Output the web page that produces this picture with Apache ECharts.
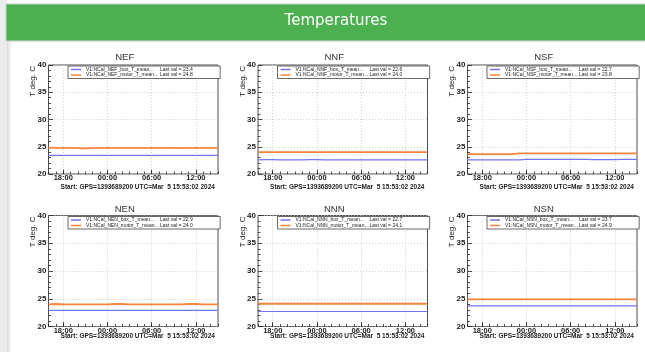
<!DOCTYPE html>
<html>
<head>
<meta charset="utf-8">
<script src="https://cdn.jsdelivr.net/npm/echarts@6/dist/echarts.min.js"></script>
<style>
html, body { margin: 0; padding: 0; background: #fff; }
#chart { width: 645px; height: 352px; }
</style>
</head>
<body>
<div id="chart"></div>
<script>
// hours since midnight of the start day (24 = 00:00 next day)
var hours = [16, 17, 18, 19, 20, 21, 22, 23, 24, 25, 26, 27, 28, 29, 30, 31, 32, 33, 34, 35, 36, 37, 38, 39];
var majorHours = [18, 24, 30, 36];

var panelNames = ['NEF', 'NNF', 'NSF', 'NEN', 'NNN', 'NSN'];

/* box / motor temperatures, deg C */
var nefBox   = [23.4, 23.4, 23.4, 23.4, 23.4, 23.4, 23.4, 23.4, 23.4, 23.4, 23.4, 23.4, 23.4, 23.4, 23.4, 23.4, 23.4, 23.4, 23.4, 23.4, 23.4, 23.4, 23.4, 23.4];
var nefMotor = [24.85, 24.8, 24.8, 24.8, 24.75, 24.7, 24.75, 24.8, 24.8, 24.8, 24.8, 24.8, 24.8, 24.8, 24.8, 24.8, 24.8, 24.8, 24.75, 24.8, 24.8, 24.8, 24.8, 24.8];
var nnfBox   = [22.6, 22.65, 22.65, 22.6, 22.6, 22.6, 22.6, 22.65, 22.65, 22.6, 22.6, 22.6, 22.6, 22.6, 22.6, 22.6, 22.6, 22.6, 22.6, 22.6, 22.6, 22.6, 22.6, 22.6];
var nnfMotor = [24.0, 24.0, 24.0, 24.0, 24.0, 24.0, 24.0, 24.0, 24.0, 24.0, 24.0, 24.0, 24.0, 24.0, 24.0, 24.0, 24.0, 24.0, 24.0, 24.0, 24.0, 24.0, 24.0, 24.0];
var nsfBox   = [22.6, 22.6, 22.6, 22.6, 22.6, 22.6, 22.6, 22.6, 22.7, 22.7, 22.7, 22.7, 22.7, 22.7, 22.7, 22.7, 22.7, 22.65, 22.65, 22.65, 22.65, 22.7, 22.7, 22.7];
var nsfMotor = [23.65, 23.65, 23.65, 23.65, 23.65, 23.65, 23.65, 23.8, 23.8, 23.8, 23.8, 23.8, 23.8, 23.8, 23.8, 23.8, 23.8, 23.8, 23.8, 23.8, 23.8, 23.8, 23.8, 23.8];
var nenBox   = [22.9, 22.9, 22.9, 22.9, 22.9, 22.9, 22.9, 22.9, 22.9, 22.9, 22.9, 22.9, 22.9, 22.9, 22.9, 22.9, 22.9, 22.9, 22.9, 22.9, 22.9, 22.9, 22.9, 22.9];
var nenMotor = [24.0, 24.05, 24.0, 24.0, 24.0, 24.0, 24.0, 24.0, 24.0, 24.05, 24.05, 24.0, 24.0, 24.0, 24.0, 24.0, 24.0, 24.0, 24.0, 24.05, 24.05, 24.0, 24.0, 24.0];
var nnnBox   = [22.7, 22.7, 22.7, 22.7, 22.7, 22.7, 22.7, 22.7, 22.7, 22.7, 22.7, 22.7, 22.7, 22.7, 22.7, 22.7, 22.7, 22.7, 22.7, 22.7, 22.7, 22.7, 22.7, 22.7];
var nnnMotor = [24.1, 24.1, 24.1, 24.1, 24.1, 24.1, 24.1, 24.1, 24.1, 24.1, 24.1, 24.1, 24.1, 24.1, 24.1, 24.1, 24.1, 24.1, 24.1, 24.1, 24.1, 24.1, 24.1, 24.1];
var nsnBox   = [23.7, 23.7, 23.7, 23.7, 23.7, 23.7, 23.7, 23.7, 23.7, 23.7, 23.7, 23.7, 23.7, 23.7, 23.7, 23.7, 23.7, 23.7, 23.7, 23.7, 23.7, 23.7, 23.7, 23.7];
var nsnMotor = [24.9, 24.9, 24.9, 24.9, 24.9, 24.9, 24.9, 24.9, 24.9, 24.9, 24.9, 24.9, 24.9, 24.9, 24.9, 24.9, 24.9, 24.9, 24.9, 24.9, 24.9, 24.9, 24.9, 24.9];

var boxData = [nefBox, nnfBox, nsfBox, nenBox, nnnBox, nsnBox];
var motorData = [nefMotor, nnfMotor, nsfMotor, nenMotor, nnnMotor, nsnMotor];
var lastBox = [23.4, 22.6, 22.7, 22.9, 22.7, 23.7];
var lastMotor = [24.8, 24.0, 23.8, 24.0, 24.1, 24.9];

var startText = 'Start: GPS=1393689200 UTC=Mar  5 15:53:02 2024';

/* layout */
var colLeft = [48.5, 258, 467.5];
var plotW = 169.5;
var rowTop = [65, 215.5];
var rowH = [109, 111];
var titleY = [57, 209.5];
var nameGap = [9.4, 6.7];
var FONT = 'Liberation Sans';
var BLUE = '#7474ee';
var ORANGE = '#f7843a';
var INK = '#222';

function fmtHour(v) {
	var h = v % 24;
	return (h < 10 ? '0' + h : h) + ':00';
}

var chart = echarts.init(document.getElementById('chart'));

var grids = [], xAxes = [], yAxes = [], series = [], legends = [];
var titles = [{
	text: 'Temperatures',
	left: 336, top: 14, padding: 0,
	textAlign: 'center',
	textStyle: { color: '#fff', fontSize: 15, fontWeight: 'normal', fontFamily: 'DejaVu Sans' }
}];
var graphics = [
	{ type: 'rect', z: 0, shape: { x: 0, y: 0, width: 7, height: 352 }, style: { fill: '#ececec' } },
	{ type: 'rect', z: 0, shape: { x: 7, y: 41, width: 7, height: 311 },
	  style: { fill: new echarts.graphic.LinearGradient(0, 0, 1, 0, [
		{ offset: 0, color: '#d6d6d6' }, { offset: 1, color: 'rgba(255,255,255,0)' }]) } },
	{ type: 'rect', z: 0, shape: { x: 6, y: 4, width: 640, height: 37 },
	  style: { fill: '#4caf50', stroke: '#cfcfcf', lineWidth: 1 } }
];

panelNames.forEach(function(p, i) {
	var r = Math.floor(i / 3), c = i % 3;
	var left = colLeft[c], top = rowTop[r];

	grids.push({
		left: left, top: top, width: plotW, height: rowH[r],
		show: true, backgroundColor: '#fff', borderColor: INK, borderWidth: 0.8
	});

	titles.push({
		text: p, left: left + plotW / 2 - 8.5, top: titleY[r] - 5, padding: 0,
		textAlign: 'center',
		textStyle: { color: '#333', fontSize: 9.5, fontWeight: 'normal', fontFamily: FONT }
	});

	// main x axis: labels, major ticks, grid lines
	xAxes.push({
		type: 'value', gridIndex: i, min: 16, max: 39, position: 'bottom',
		axisLine: { show: false },
		axisTick: { inside: true, length: 4.5, customValues: majorHours, lineStyle: { color: INK, width: 0.8 } },
		axisLabel: { customValues: majorHours, formatter: fmtHour, margin: 0,
			fontSize: 7.5, fontWeight: 'bold', color: INK, fontFamily: FONT },
		splitLine: { show: true, lineStyle: { color: '#c4c4c4', width: 0.8, type: [1, 2] } },
		name: startText, nameLocation: 'middle', nameGap: nameGap[r], nameMoveOverlap: false,
		nameTextStyle: { fontSize: 6.5, fontWeight: 'bold', color: INK, fontFamily: FONT, padding: [0, 0, 0, 9] }
	});
	// hourly minor ticks
	xAxes.push({
		type: 'value', gridIndex: i, min: 16, max: 39, interval: 1, position: 'bottom',
		axisLine: { show: false },
		axisTick: { inside: true, length: 2.5, lineStyle: { color: INK, width: 0.8 } },
		axisLabel: { show: false },
		splitLine: { show: false }
	});

	yAxes.push({
		type: 'value', gridIndex: i, min: 20, max: 40, interval: 5,
		axisLine: { show: false },
		axisTick: { inside: true, length: 4.5, lineStyle: { color: INK, width: 0.8 } },
		minorTick: { show: true, splitNumber: 5, length: 2.5, lineStyle: { color: INK, width: 0.8 } },
		axisLabel: { margin: 2, fontSize: 8, fontWeight: 'bold', color: INK, fontFamily: FONT },
		splitLine: { show: true, lineStyle: { color: '#c4c4c4', width: 0.8, type: [1, 2] } }
	});

	var boxName = 'V1:NCal_' + p + '_box_T_mean... Last val = ' + lastBox[i].toFixed(1);
	var motorName = 'V1:NCal_' + p + '_motor_T_mean... Last val = ' + lastMotor[i].toFixed(1);

	series.push({
		type: 'line', name: boxName, xAxisIndex: 2 * i, yAxisIndex: i,
		data: hours.map(function(h, k) { return [h, boxData[i][k]]; }),
		symbol: 'none', animation: false,
		lineStyle: { color: BLUE, width: 1.2 }, itemStyle: { color: BLUE }
	});
	series.push({
		type: 'line', name: motorName, xAxisIndex: 2 * i, yAxisIndex: i,
		data: hours.map(function(h, k) { return [h, motorData[i][k]]; }),
		symbol: 'none', animation: false,
		lineStyle: { color: ORANGE, width: 1.8 }, itemStyle: { color: ORANGE }
	});

	legends.push({
		data: [boxName, motorName], orient: 'vertical',
		left: left + 19.5, top: top + 1,
		icon: 'rect', itemWidth: 10, itemHeight: 1.5, itemGap: 0.5,
		padding: [1, 27.5, 1, 3],
		borderColor: '#444', borderWidth: 0.8, backgroundColor: '#fff',
		selectedMode: false,
		formatter: function(name) {
			var k = name.indexOf(' Last');
			return '{a|' + name.slice(0, k) + '}{b|' + name.slice(k + 1) + '}';
		},
		textStyle: {
			fontSize: 5, color: INK, fontFamily: FONT,
			rich: {
				a: { width: 74, fontSize: 5, lineHeight: 4.5, color: INK, fontFamily: FONT },
				b: { fontSize: 5, lineHeight: 4.5, color: INK, fontFamily: FONT }
			}
		}
	});

	graphics.push({
		type: 'text', x: left - 15.5, y: top + 1, rotation: Math.PI / 2,
		style: { text: 'T deg. C', fontSize: 8, fill: INK, fontFamily: FONT, align: 'right', verticalAlign: 'middle' }
	});
});

chart.setOption({
	backgroundColor: '#fff',
	animation: false,
	title: titles,
	grid: grids,
	xAxis: xAxes,
	yAxis: yAxes,
	legend: legends,
	series: series,
	graphic: graphics
});
</script>
</body>
</html>
